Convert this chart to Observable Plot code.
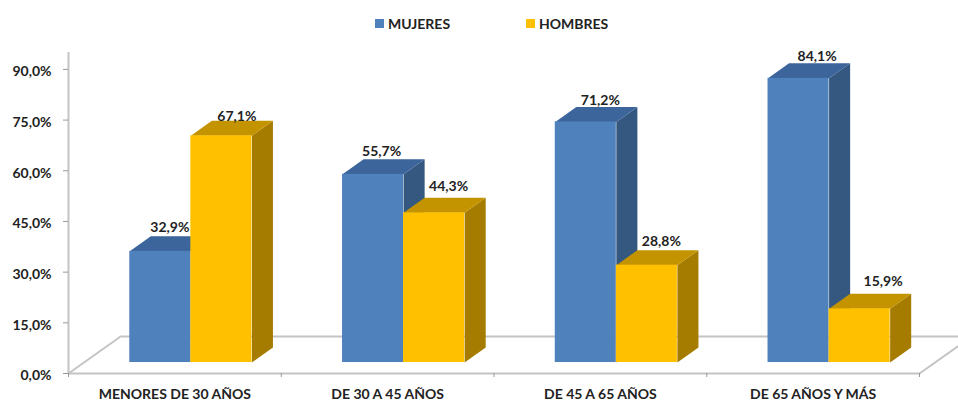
<!DOCTYPE html>
<html>
<head>
<meta charset="utf-8">
<script src="https://cdn.jsdelivr.net/npm/d3@7"></script>
<script src="https://cdn.jsdelivr.net/npm/@observablehq/plot@0.6"></script>
<style>
html,body{margin:0;padding:0;background:#fff;overflow:hidden}
#legend{position:relative;height:40px;font:bold 14px Lato,sans-serif;color:#222}
#legend span{position:absolute;top:15px;line-height:18px}
#legend i{position:absolute;top:19px;width:9px;height:9px}
</style>
</head>
<body>
<div id="legend"></div>
<div id="chart"></div>
<script>
const categories = ["MENORES DE 30 AÑOS", "DE 30 A 45 AÑOS", "DE 45 A 65 AÑOS", "DE 65 AÑOS Y MÁS"];
const mujeres = [32.9, 55.7, 71.2, 84.1];
const hombres = [67.1, 44.3, 28.8, 15.9];
const yTicks = [0, 15, 30, 45, 60, 75, 90];

// layout of the 3D look, in scale units
const barShiftX = 0.075, barW = 0.287, depthX = 0.099, lift = 3.25, depthY = 4.44;
const floorX = 0.245, floorY = 10.95;
const colours = {
  MUJERES: {front: "#4f81bd", top: "#3b659b", side: "#34587f"},
  HOMBRES: {front: "#ffc000", top: "#c49400", side: "#a67c00"}
};
// hand placement of each value label, as in the original chart [dx, dy] in pixels
const nudgeM = [[-1, -9], [-2, -8], [4, -6], [8, -7]];
const nudgeH = [[5, -4], [4, -11], [4, -9], [13, -12]];

const pct = d => d.toFixed(1).replace(".", ",") + "%";
const bars = [
  ...mujeres.map((v, i) => ({s: "MUJERES", i, v, x0: i + 0.5 + barShiftX - barW, x1: i + 0.5 + barShiftX, n: nudgeM[i]})),
  ...hombres.map((v, i) => ({s: "HOMBRES", i, v, x0: i + 0.5 + barShiftX, x1: i + 0.5 + barShiftX + barW, n: nudgeH[i]}))
];
const poly = (pts, fill) => Plot.line(pts, {x: "0", y: "1", fill, stroke: "none", curve: "linear"});
const facePolys = b => [
  poly([[b.x1, lift], [b.x1 + depthX, lift + depthY], [b.x1 + depthX, b.v + lift + depthY], [b.x1, b.v + lift]], colours[b.s].side),
  poly([[b.x0, b.v + lift], [b.x0 + depthX, b.v + lift + depthY], [b.x1 + depthX, b.v + lift + depthY], [b.x1, b.v + lift]], colours[b.s].top),
];
const grey = "#c4c4c4";

document.querySelector("#legend").innerHTML =
  `<i style="left:375px;background:${colours.MUJERES.front}"></i><span style="left:388px">MUJERES</span>` +
  `<i style="left:526px;background:${colours.HOMBRES.front}"></i><span style="left:539px">HOMBRES</span>`;

const chart = Plot.plot({
  width: 958, height: 361,
  marginLeft: 68, marginRight: 39, marginTop: 12, marginBottom: 28,
  style: {fontFamily: "Lato, sans-serif", background: "#fff"},
  x: {domain: [0, 4], range: [68, 919]},
  y: {domain: [0, 95], range: [333, 12]},
  marks: [
    // floor
    Plot.line([[0, 0], [floorX, floorY], [4 + floorX, floorY]], {x: "0", y: "1", stroke: grey, strokeWidth: 2}),
    Plot.line([[4, 0], [4 + floorX, floorY]], {x: "0", y: "1", stroke: grey, strokeWidth: 2}),
    Plot.ruleY([0], {x1: 0, x2: 4, stroke: grey, strokeWidth: 2}),
    Plot.ruleX([0], {y1: 0, y2: 95, stroke: grey, strokeWidth: 2}),
    Plot.axisY({ticks: yTicks, tickSize: 5, stroke: "#999", tickFormat: () => "", label: null}),
    Plot.axisY({ticks: yTicks, tickSize: 0, tickPadding: 17, dy: 2.5, color: "#222", fontSize: 14, fontWeight: "bold", tickFormat: pct, label: null}),
    Plot.axisX({ticks: [0, 1, 2, 3, 4], tickSize: 4, stroke: "#999", tickFormat: () => "", label: null}),
    Plot.axisX({ticks: categories.map((c, i) => i + 0.5), tickSize: 0, tickPadding: 15.5, fontSize: 14, fontWeight: "bold", color: "#222", tickFormat: d => categories[d - 0.5], label: null}),
    // bars
    ...["MUJERES", "HOMBRES"].flatMap(s => {
      const group = bars.filter(b => b.s === s);
      return [
        ...group.flatMap(facePolys),
        Plot.rect(group, {x1: "x0", x2: "x1", y1: lift, y2: b => b.v + lift, fill: colours[s].front})
      ];
    }),
    // value labels
    ...bars.map(b => Plot.text([b], {
      x: d => (d.x0 + d.x1) / 2 + depthX / 2,
      y: d => d.v + lift + depthY,
      text: d => pct(d.v),
      dx: b.n[0], dy: b.n[1],
      fontSize: 14, fontWeight: "bold", fill: "#222"
    }))
  ]
});
document.querySelector("#chart").append(chart);
</script>
</body>
</html>
